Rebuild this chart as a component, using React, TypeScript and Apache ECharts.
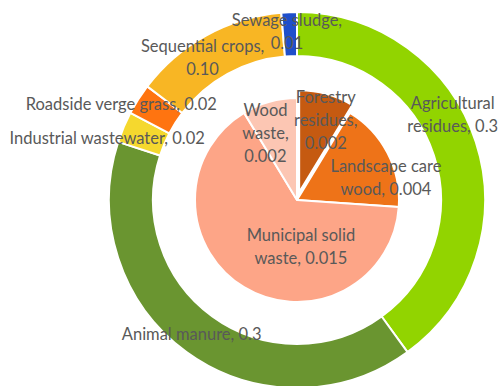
import React, { useEffect, useRef } from "react";
import * as echarts from "echarts";

// Outer ring: feedstock categories
const outerNames = [
  "Agricultural residues",
  "Animal manure",
  "Industrial wastewater",
  "Roadside verge grass",
  "Sequential crops",
  "Sewage sludge",
];
const outerValues = [0.3, 0.3, 0.02, 0.02, 0.1, 0.01];
const outerDecimals = [1, 1, 2, 2, 2, 2];
const outerLabelNames = [
  "Agricultural\nresidues",
  "Animal manure",
  "Industrial wastewater",
  "Roadside verge grass",
  "Sequential crops",
  "Sewage sludge",
];
const outerValueOnNewLine = [false, false, false, false, true, true];
const outerColors = ["#92D400", "#6A9530", "#F5D82E", "#FF7410", "#F8B624", "#1F4FCB"];
const outerLabelShift = [
  [-5, -33],
  [-6, -3],
  [-34, 3],
  [-33, -5],
  [-13, 6],
  [-3, 0],
];

// Inner pie: wood / waste categories
const innerNames = ["Forestry residues", "Landscape care wood", "Municipal solid waste", "Wood waste"];
const innerValues = [0.002, 0.004, 0.015, 0.002];
const innerDecimals = [3, 3, 3, 3];
const innerLabelNames = ["Forestry\nresidues", "Landscape care\nwood", "Municipal solid\nwaste", "Wood\nwaste"];
const innerValueOnNewLine = [true, false, false, true];
const innerColors = ["#C55A11", "#EE7318", "#FDA587", "#FCC6B3"];
const innerExploded = [true, false, false, false];
const innerLabelShift = [
  [12, -20],
  [41, 2],
  [32, 0],
  [-17, -15],
];

const FONT = "Lato, 'Noto Sans', sans-serif";

export default function App() {
  const ref = useRef<HTMLDivElement>(null);

  useEffect(() => {
    document.body.style.margin = "0";
    if (!ref.current) return;
    const chart = echarts.init(ref.current, undefined, { renderer: "svg" });

    const outerData = outerNames.map((n, i) => ({
      name: n,
      value: outerValues[i],
      itemStyle: { color: outerColors[i] },
    }));
    const innerData = innerNames.map((n, i) => ({
      name: n,
      value: innerValues[i],
      selected: innerExploded[i],
      itemStyle: { color: innerColors[i] },
      select: { itemStyle: { color: innerColors[i], borderColor: "#fff", borderWidth: 2 } },
    }));

    const labelBase = {
      show: true,
      position: "inside" as const,
      color: "#595959",
      fontFamily: FONT,
      fontSize: 16.5,
      lineHeight: 23,
      align: "center" as const,
    };

    chart.setOption({
      animation: false,
      backgroundColor: "#ffffff",
      series: [
        {
          type: "pie",
          name: "outer",
          center: [297, 200],
          radius: [144, 188],
          startAngle: 90,
          clockwise: true,
          silent: true,
          itemStyle: { borderColor: "#ffffff", borderWidth: 2 },
          label: {
            ...labelBase,
            formatter: (p: any) =>
              outerLabelNames[p.dataIndex] +
              (outerValueOnNewLine[p.dataIndex] ? ",\n" : ", ") +
              Number(p.value).toFixed(outerDecimals[p.dataIndex]),
          },
          labelLayout: (p: any) => ({
            dx: outerLabelShift[p.dataIndex][0],
            dy: outerLabelShift[p.dataIndex][1],
          }),
          labelLine: { show: false },
          emphasis: { disabled: true },
          data: outerData,
        },
        {
          type: "pie",
          name: "inner",
          center: [297, 200],
          radius: [0, 102],
          startAngle: 90,
          clockwise: true,
          selectedMode: "multiple",
          selectedOffset: 8,
          itemStyle: { borderColor: "#ffffff", borderWidth: 2 },
          label: {
            ...labelBase,
            formatter: (p: any) =>
              innerLabelNames[p.dataIndex] +
              (innerValueOnNewLine[p.dataIndex] ? ",\n" : ", ") +
              Number(p.value).toFixed(innerDecimals[p.dataIndex]),
          },
          labelLayout: (p: any) => ({
            dx: innerLabelShift[p.dataIndex][0],
            dy: innerLabelShift[p.dataIndex][1],
          }),
          labelLine: { show: false },
          emphasis: { disabled: true },
          data: innerData,
        },
      ],
    });

    return () => chart.dispose();
  }, []);

  return <div ref={ref} style={{ width: 499, height: 386 }} />;
}
